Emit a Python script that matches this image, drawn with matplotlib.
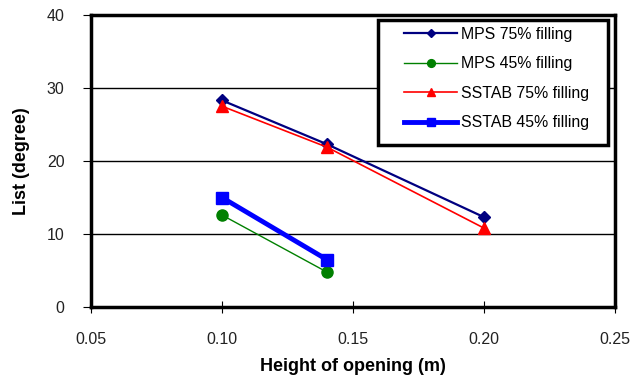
import numpy as np
import matplotlib.pyplot as plt
from matplotlib.patches import Rectangle

plt.rcParams['font.family'] = ['Liberation Sans', 'DejaVu Sans']

# heights of opening (m)
x_75 = [0.10, 0.14, 0.20]
x_45 = [0.10, 0.14]

mps_75 = [28.3, 22.3, 12.3]
mps_45 = [12.6, 4.8]
sstab_75 = [27.5, 21.9, 10.8]
sstab_45 = [15.0, 6.5]

fig = plt.figure(figsize=(6.31, 3.81), dpi=100)
ax = fig.add_axes([0.144, 0.194, 0.831, 0.767])

ax.plot(x_75, mps_75, color="#000080", linewidth=1.6, marker="D", markersize=6,
        label="MPS 75% filling")
ax.plot(x_45, mps_45, color="#008000", linewidth=1.0, marker="o", markersize=8,
        label="MPS 45% filling")
ax.plot(x_75, sstab_75, color="#ff0000", linewidth=1.2, marker="^", markersize=9,
        label="SSTAB 75% filling")
ax.plot(x_45, sstab_45, color="#0000ff", linewidth=3.5, marker="s", markersize=9,
        label="SSTAB 45% filling")

ax.set_xlim(0.05, 0.25)
ax.set_ylim(0, 40)
ax.set_xticks([0.05, 0.10, 0.15, 0.20, 0.25])
ax.set_xticklabels(["0.05", "0.10", "0.15", "0.20", "0.25"])
ax.set_yticks([0, 10, 20, 30, 40])
ax.tick_params(labelsize=11.5, labelcolor="#222222", width=0.8)
ax.tick_params(axis="x", direction="inout", length=8, pad=14)
ax.tick_params(axis="y", direction="out", length=6, pad=13)
ax.grid(True, axis="y", color="black", linewidth=1.0)
ax.set_axisbelow(True)
for s in ax.spines.values():
    s.set_linewidth(2.5)

ax.set_xlabel("Height of opening (m)", fontsize=13, fontweight="bold")
ax.set_ylabel("List (degree)", fontsize=13, fontweight="bold")
ax.xaxis.set_label_coords(0.5, -0.205)
ax.xaxis.label.set_va("center")
ax.yaxis.set_label_coords(-0.132, 0.5)
ax.yaxis.label.set_va("center")

# legend box drawn separately so its size matches the original
box = Rectangle((0.599, 0.619), 0.3645, 0.328, transform=fig.transFigure,
                facecolor="white", edgecolor="black", linewidth=2.5, zorder=4)
fig.patches.append(box)

leg = fig.legend(loc="upper left", bbox_to_anchor=(0.641, 0.93), fontsize=11.4,
                 frameon=False, handlelength=3.3, labelspacing=0.92, borderpad=0,
                 handletextpad=0.25, borderaxespad=0, markerscale=0.7)
leg.set_zorder(6)

fig.savefig("out.png", dpi=100)
